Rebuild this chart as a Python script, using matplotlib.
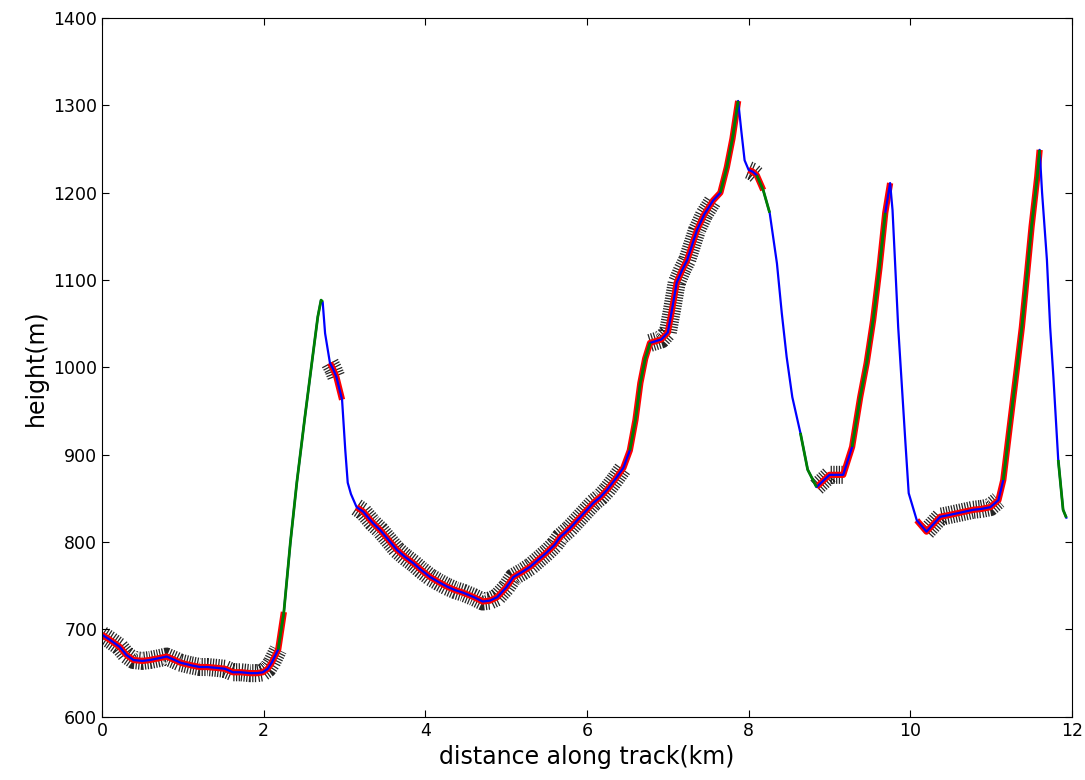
import numpy as np
import matplotlib
matplotlib.use('Agg')
import matplotlib.pyplot as plt

# profil doc duong di (doc tu hinh)
dist_km = [0.00, 0.10, 0.22, 0.30, 0.39, 0.50, 0.59, 0.70, 0.80, 0.90, 0.97, 1.10, 1.21, 1.30,
           1.42, 1.52, 1.62, 1.72, 1.83, 1.92, 1.99, 2.05, 2.10, 2.18, 2.25, 2.33, 2.41, 2.51,
           2.60, 2.67, 2.71, 2.73, 2.76, 2.82, 2.86, 2.90, 2.97, 3.01, 3.04, 3.08, 3.15, 3.23,
           3.35, 3.44, 3.55, 3.65, 3.75, 3.85, 3.95, 4.06, 4.17, 4.27, 4.37, 4.47, 4.60, 4.71,
           4.80, 4.89, 5.00, 5.09, 5.20, 5.30, 5.40, 5.50, 5.60, 5.67, 5.78, 5.88, 5.98, 6.08,
           6.17, 6.25, 6.35, 6.45, 6.53, 6.60, 6.66, 6.72, 6.78, 6.85, 6.92, 7.00, 7.05, 7.11,
           7.18, 7.24, 7.30, 7.36, 7.45, 7.56, 7.65, 7.73, 7.80, 7.87, 7.91, 7.95, 8.00, 8.05,
           8.10, 8.18, 8.26, 8.35, 8.41, 8.47, 8.54, 8.64, 8.73, 8.84, 8.92, 9.00, 9.08, 9.17,
           9.28, 9.38, 9.46, 9.54, 9.62, 9.69, 9.75, 9.78, 9.81, 9.85, 9.90, 9.94, 9.98, 10.08,
           10.20, 10.30, 10.37, 10.48, 10.58, 10.68, 10.78, 10.88, 10.99, 11.09, 11.15, 11.23,
           11.32, 11.38, 11.44, 11.50, 11.57, 11.60, 11.63, 11.69, 11.73, 11.77, 11.83, 11.89, 11.93]
height_m = [694, 688, 680, 671, 665, 664, 665, 667, 669, 665, 662, 659, 657, 657,
            656, 655, 651, 651, 650, 650, 651, 655, 662, 677, 720, 799, 868, 943,
            1008, 1058, 1077, 1075, 1039, 1005, 998, 989, 963, 905, 868, 855, 840, 835,
            822, 814, 802, 791, 783, 776, 768, 760, 754, 749, 745, 742, 737, 732,
            733, 737, 748, 760, 766, 772, 780, 788, 797, 806, 815, 825, 835, 845,
            852, 860, 872, 885, 905, 940, 982, 1010, 1028, 1030, 1032, 1040, 1065, 1097,
            1112, 1123, 1140, 1157, 1175, 1191, 1200, 1229, 1262, 1305, 1270, 1237, 1226, 1224,
            1220, 1203, 1177, 1119, 1062, 1012, 966, 925, 883, 863, 870, 877, 877, 877,
            909, 966, 1005, 1054, 1115, 1177, 1211, 1180, 1123, 1046, 971, 913, 856, 825,
            812, 822, 829, 831, 833, 835, 837, 838, 840, 848, 871, 932,
            1000, 1046, 1103, 1161, 1218, 1249, 1200, 1123, 1046, 989, 894, 837, 828]

# cac doan: bang phang (den), doc vua (do), len doc (xanh la), xuong doc (xanh duong)
flat_segs = [(0, 2.2), (2.82, 2.95), (3.1, 6.5), (6.75, 7.6), (7.97, 8.12), (8.8, 9.25), (10.1, 11.12)]
mild_segs = [(0, 2.3), (2.8, 2.97), (3.1, 7.9), (7.97, 8.2), (8.8, 9.76), (10.05, 11.6)]
up_segs = [(2.15, 2.73), (6.5, 6.8), (7.6, 7.88), (8.1, 8.3), (8.6, 8.86), (9.2, 9.74), (11.1, 11.6), (11.83, 11.93)]

x = np.array(dist_km)
y = np.array(height_m)

fig = plt.figure(figsize=(10.85, 7.8), dpi=100)
ax = fig.add_axes([0.094, 0.081, 0.894, 0.896])

def ve(segs, **kw):
    for a, b in segs:
        m = (x >= a) & (x <= b)
        ax.plot(x[m], y[m], solid_capstyle='butt', dash_capstyle='butt', **kw)

ve(flat_segs, color='k', lw=13, linestyle=(0, (0.07, 0.08)), alpha=0.85)
ve(mild_segs, color='r', lw=4.5)
ax.plot(x, y, color='b', lw=1.6)
ve(up_segs, color=(0, 0.5, 0), lw=2.0)

ax.set_xlim(0, 12)
ax.set_ylim(600, 1400)
ax.set_xlabel('distance along track(km)', fontsize=17)
ax.set_ylabel('height(m)', fontsize=17)
ax.tick_params(direction='in', top=True, right=True, labelsize=12.5, length=5)
plt.savefig('out.png', dpi=100)
